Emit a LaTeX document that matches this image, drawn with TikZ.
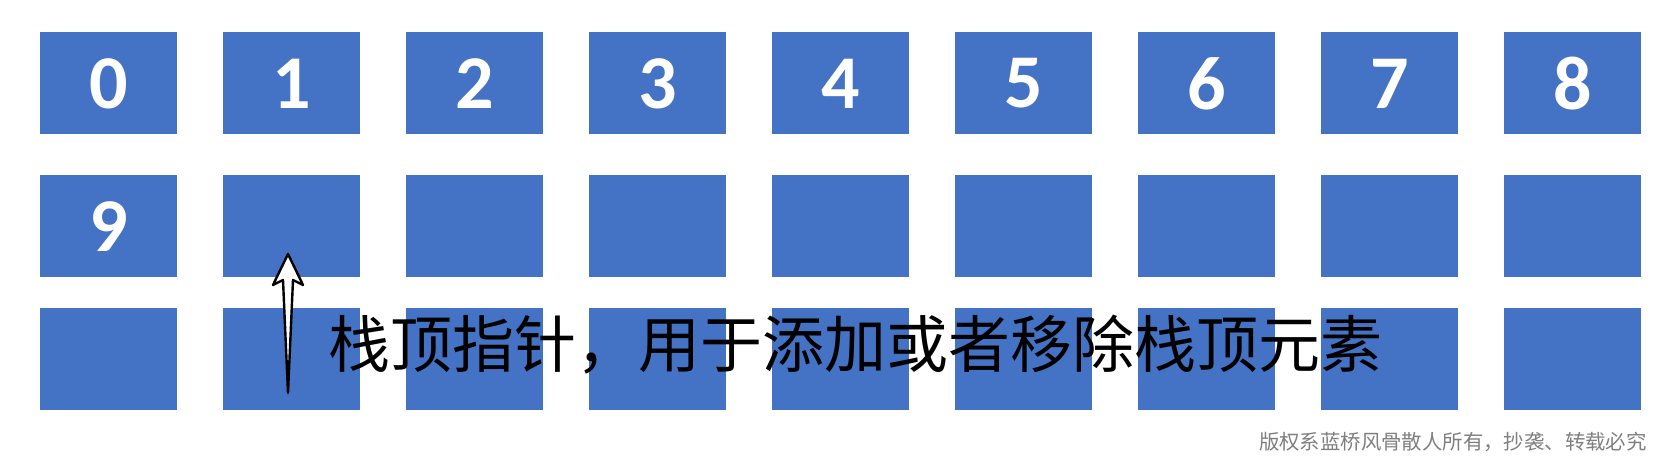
\documentclass[tikz,border=0pt]{standalone}
\usepackage{fontspec}
\setmainfont{Carlito}
\newfontfamily\cjk{Noto Sans CJK SC}
\usepackage{tikz}
\usetikzlibrary{positioning}

\definecolor{cellblue}{HTML}{4472C4}
\definecolor{markgray}{HTML}{7F7F7F}

\tikzset{
  cell/.style={fill=cellblue, draw=none, minimum width=68.5pt, minimum height=51pt,
    inner sep=0pt, text=white, font=\fontsize{38}{40}\selectfont\bfseries},
  pointer/.style={draw=black, line width=1.2pt, line join=round, fill=white},
}

\begin{document}
\begin{tikzpicture}[x=0.5pt, y=-0.5pt]
    \useasboundingbox (0, 0) rectangle (1669, 459);

    \foreach \c in {0,...,8} {
      \node [cell] (cell-1-\c) at (108.5 + 183*\c, 83.5) {\c};
      \node [cell] (cell-2-\c) at (108.5 + 183*\c, 226.5) {};
      \node [cell] (cell-3-\c) at (108.5 + 183*\c, 359) {};
    }
    \node at (cell-2-0) [text=white, font=\fontsize{38}{40}\selectfont\bfseries] {9};

    \coordinate (ptr tip) at (288, 254);
    \coordinate (ptr tail) at (288, 393);
    \draw [pointer] (ptr tail) -- ++(-5, -113) -- ++(-10, 5) -- (ptr tip)
      -- ++(15, 31) -- ++(-10, -5) -- cycle;

    \node [anchor=west, inner sep=0pt, font=\cjk\fontsize{31}{33}\selectfont] (label)
      at (328, 345) {栈顶指针，用于添加或者移除栈顶元素};

    \node [anchor=east, inner sep=0pt, text=markgray, font=\cjk\fontsize{10.2}{12}\selectfont] (copyright)
      at (1647, 442) {版权系蓝桥风骨散人所有，抄袭、转载必究};
  \end{tikzpicture}
\end{document}
